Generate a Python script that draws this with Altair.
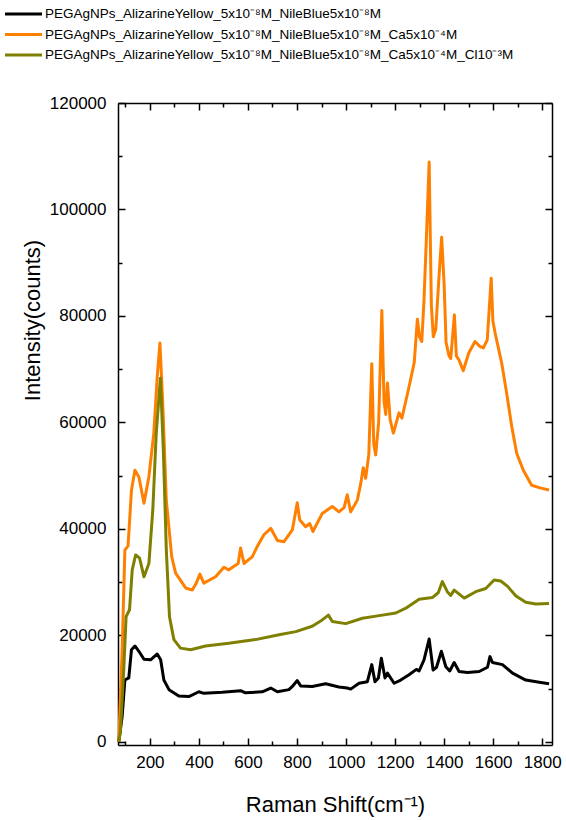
import altair as alt
import pandas as pd

# ---------------- data ----------------
labels = [
    "PEGAgNPs_AlizarineYellow_5x10⁻⁸M_NileBlue5x10⁻⁸M",
    "PEGAgNPs_AlizarineYellow_5x10⁻⁸M_NileBlue5x10⁻⁸M_Ca5x10⁻⁴M",
    "PEGAgNPs_AlizarineYellow_5x10⁻⁸M_NileBlue5x10⁻⁸M_Ca5x10⁻⁴M_Cl10⁻³M",
]
colors = ["#000000", "#FF8000", "#808000"]

black_x = [73, 87, 98, 114, 125, 139, 155, 176, 203, 230, 244, 257, 278, 318, 359, 400, 420,
           495, 570, 590, 658, 693, 720, 767, 781, 801, 815, 862, 917, 971, 1005, 1019, 1053,
           1087, 1105, 1118, 1132, 1144, 1159, 1169, 1196, 1223, 1257, 1287, 1298, 1318, 1339,
           1355, 1369, 1389, 1407, 1423, 1441, 1461, 1495, 1543, 1577, 1587, 1597, 1638, 1679,
           1733, 1788, 1828]
black_y = [0, 4800, 11600, 12000, 17300, 18000, 17000, 15500, 15400, 16500, 15400, 11600, 9800,
           8600, 8500, 9400, 9100, 9300, 9600, 9200, 9400, 10100, 9400, 9800, 10400, 11500,
           10500, 10400, 10900, 10300, 10100, 9900, 11000, 11300, 14500, 11300, 12000, 15700,
           12000, 12900, 11000, 11600, 12600, 13600, 13300, 15400, 19300, 13500, 14000, 17000,
           14100, 13300, 14900, 13200, 13000, 13200, 14000, 16000, 14900, 14500, 12900, 11600,
           11200, 10900]

orange_x = [73, 87, 98, 111, 125, 139, 155, 176, 196, 216, 230, 241, 253, 267, 289, 305, 346,
            373, 389, 404, 420, 468, 502, 522, 560, 570, 584, 618, 638, 665, 693, 720, 747, 781,
            801, 811, 835, 852, 865, 903, 944, 971, 992, 1005, 1019, 1046, 1060, 1070, 1080,
            1093, 1105, 1113, 1121, 1133, 1146, 1155, 1162, 1169, 1180, 1193, 1216, 1228, 1257,
            1278, 1291, 1300, 1309, 1318, 1328, 1339, 1348, 1356, 1366, 1380, 1390, 1400, 1408,
            1420, 1427, 1442, 1450, 1461, 1478, 1500, 1526, 1545, 1560, 1576, 1592, 1599, 1608,
            1635, 1655, 1676, 1696, 1723, 1757, 1791, 1828]
orange_y = [0, 17300, 36000, 36800, 47300, 51000, 49800, 44800, 49800, 58000, 68600, 74900,
            63000, 45400, 34800, 31700, 28900, 28500, 29800, 31500, 29800, 31000, 32800, 32300,
            33500, 36400, 33500, 34800, 36700, 38900, 40100, 37800, 37600, 39800, 44900, 41700,
            40400, 41000, 39500, 42900, 44200, 43200, 44000, 46400, 43200, 45400, 48500, 51500,
            49500, 54000, 71000, 56000, 53900, 60000, 81000, 64000, 61500, 67400, 60500, 58000,
            61800, 60800, 66700, 71200, 79400, 76000, 75200, 83000, 95000, 108900, 82000, 76100,
            77500, 88000, 94800, 86000, 75000, 72500, 72000, 80200, 72500, 71700, 69700, 73000,
            75200, 74300, 74000, 75500, 87100, 79000, 76800, 71100, 65500, 59200, 54200, 51000,
            48200, 47700, 47300]

olive_x = [73, 80, 94, 103, 117, 128, 142, 158, 176, 196, 212, 226, 243, 255, 267, 280, 298,
           325, 366, 427, 522, 631, 727, 795, 862, 903, 928, 944, 999, 1067, 1135, 1203, 1244,
           1298, 1352, 1376, 1393, 1413, 1427, 1441, 1482, 1529, 1570, 1604, 1631, 1659, 1693,
           1733, 1774, 1828]
olive_y = [0, 2000, 14100, 23500, 24800, 32300, 35100, 34500, 31000, 33500, 43600, 58000,
           68300, 54800, 36100, 23500, 19200, 17600, 17300, 18000, 18500, 19200, 20100, 20700,
           21700, 22900, 23800, 22600, 22200, 23200, 23700, 24200, 25100, 26800, 27100, 28000,
           30100, 28200, 27500, 28500, 27000, 28200, 28800, 30400, 30200, 29200, 27400, 26200,
           25900, 26000]

x_ticks = list(range(100, 1801, 100))
y_ticks = list(range(0, 120001, 10000))

# ---------------- table ----------------
rows = []
for name, xs, ys in zip(labels, [black_x, orange_x, olive_x], [black_y, orange_y, olive_y]):
    for xv, yv in zip(xs, ys):
        rows.append({"series": name, "shift": xv, "intensity": yv})
df = pd.DataFrame(rows)

FONT = "Liberation Sans"
W, H = 434, 642
x_scale = alt.Scale(domain=[70, 1840], nice=False, zero=False)
y_scale = alt.Scale(domain=[-600, 120000], nice=False, zero=False)
color_scale = alt.Scale(domain=labels, range=colors)

common = dict(domainColor="black", domainWidth=1.5, tickColor="black", tickWidth=1.5,
              labelFont=FONT, labelFontSize=17, labelColor="black", grid=False,
              labelOverlap=False, labelFlush=False)

X_MAJOR = "datum.value % 200 === 0"
Y_MAJOR = "datum.value % 20000 === 0"

bottom_axis = alt.Axis(
    orient="bottom", values=x_ticks, format="d",
    labelExpr=f"{X_MAJOR} ? datum.label : ''",
    labelPadding=16,
    tickSize={"condition": {"test": X_MAJOR, "value": -7}, "value": -4},
    title="Raman Shift(cm⁻¹)", titleFont=FONT, titleFontSize=22, titleFontWeight="normal",
    titleColor="black", titleX=W / 2, titleY=59, titleAlign="center", titleBaseline="middle",
    **common)
left_axis = alt.Axis(
    orient="left", values=y_ticks, format="d",
    labelExpr=f"{Y_MAJOR} ? datum.label : ''",
    labelPadding=19,
    tickSize={"condition": {"test": Y_MAJOR, "value": -7}, "value": -4},
    title="Intensity(counts)", titleFont=FONT, titleFontSize=22, titleFontWeight="normal",
    titleColor="black", titleX=-86, titleY=217, titleAlign="center", titleBaseline="middle",
    titleAngle=270,
    **common)
top_axis = alt.Axis(
    orient="top", values=x_ticks, labels=False, title=None,
    tickSize={"condition": {"test": X_MAJOR, "value": -7}, "value": -4},
    **common)
right_axis = alt.Axis(
    orient="right", values=y_ticks, labels=False, title=None,
    tickSize={"condition": {"test": Y_MAJOR, "value": -7}, "value": -4},
    **common)

lines = alt.Chart(df).mark_line(strokeWidth=3, strokeJoin="round").encode(
    x=alt.X("shift:Q", scale=x_scale, axis=bottom_axis),
    y=alt.Y("intensity:Q", scale=y_scale, axis=left_axis),
    color=alt.Color("series:N", scale=color_scale, legend=None),
)
mirror = alt.Chart(df).mark_line(strokeOpacity=0).encode(
    x=alt.X("shift:Q", scale=x_scale, axis=top_axis),
    y=alt.Y("intensity:Q", scale=y_scale, axis=right_axis),
    detail="series:N",
)

# ---------------- custom legend (top-left, above the plot) ----------------
legend_layers = []
for i, (lab, col) in enumerate(zip(labels, colors)):
    ly = -89 + 20.5 * i
    ld = pd.DataFrame({"label": [lab]})
    legend_layers.append(
        alt.Chart(ld).mark_rule(color=col, strokeWidth=3).encode(
            x=alt.value(-113), x2=alt.value(-76), y=alt.value(ly)))
    legend_layers.append(
        alt.Chart(ld).mark_text(align="left", baseline="middle", font=FONT, fontSize=13.5,
                                color="black").encode(
            x=alt.value(-73), y=alt.value(ly), text="label:N"))

chart = alt.layer(lines, mirror, *legend_layers).resolve_axis(
    x="independent", y="independent"
).properties(
    width=W, height=H,
    autosize=alt.AutoSizeParams(type="none"),
    padding={"left": 118, "top": 103, "right": 14, "bottom": 75},
).configure_view(stroke=None).configure(background="white")

chart.save("out.html", embed_options={"renderer": "svg", "actions": False})
